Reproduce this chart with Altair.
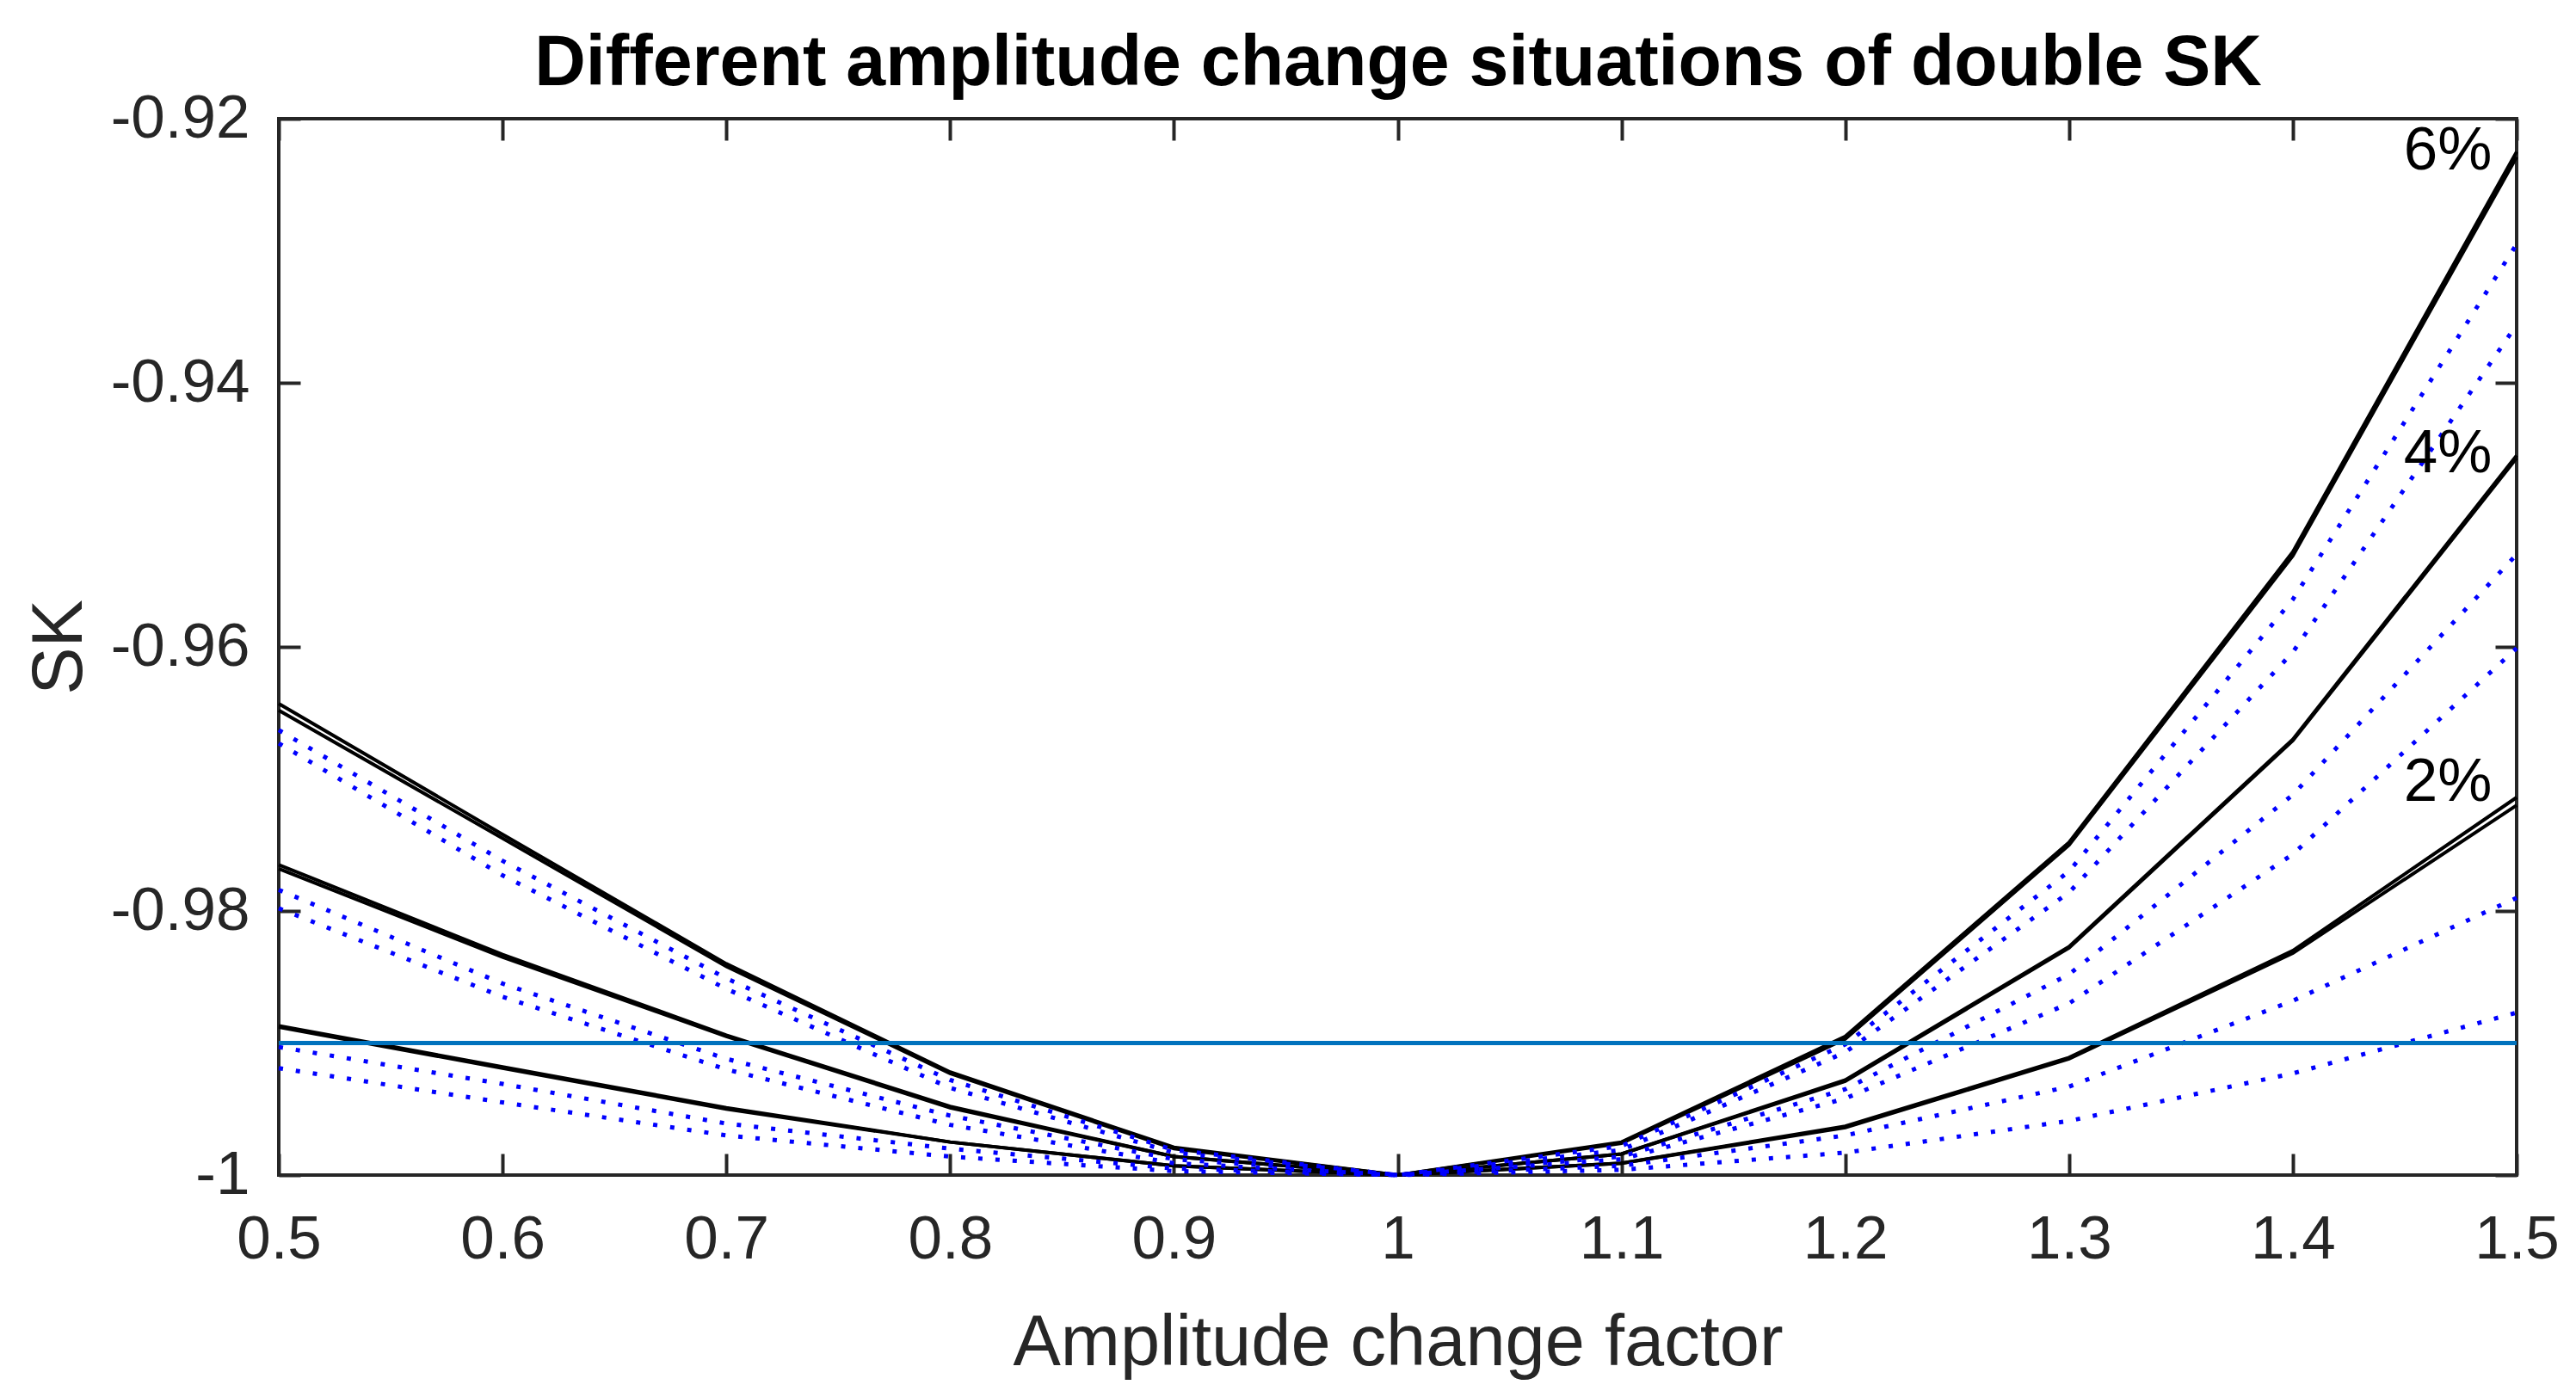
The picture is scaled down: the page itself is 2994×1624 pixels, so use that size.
import altair as alt
import pandas as pd

# ---------------- data ----------------
x_vals = [0.5, 0.6, 0.7, 0.8, 0.9, 1.0, 1.1, 1.2, 1.3, 1.4, 1.5]

black_6a = [-0.9643, -0.9742, -0.9840, -0.9922, -0.9979, -1.0, -0.9975, -0.9895, -0.9748, -0.9528, -0.9225]
black_6b = [-0.9648, -0.9745, -0.9842, -0.9923, -0.9980, -1.0, -0.9976, -0.9897, -0.9750, -0.9531, -0.9229]
black_4a = [-0.9765, -0.9833, -0.9894, -0.9948, -0.9986, -1.0, -0.9984, -0.9928, -0.9827, -0.9670, -0.9455]
black_4b = [-0.9768, -0.9835, -0.9895, -0.9949, -0.9986, -1.0, -0.9984, -0.9929, -0.9828, -0.9671, -0.9457]
black_2a = [-0.9887, -0.9918, -0.9949, -0.9975, -0.9993, -1.0, -0.9991, -0.9963, -0.9911, -0.9830, -0.9714]
black_2b = [-0.9888, -0.9919, -0.9950, -0.9975, -0.9993, -1.0, -0.9991, -0.9964, -0.9912, -0.9832, -0.9720]

blue_6a = [-0.9663, -0.9762, -0.9851, -0.9928, -0.9981, -1.0, -0.9978, -0.9901, -0.9770, -0.9564, -0.9295]
blue_6b = [-0.9673, -0.9773, -0.9859, -0.9934, -0.9983, -1.0, -0.9981, -0.9907, -0.9786, -0.9604, -0.9356]
blue_4a = [-0.9784, -0.9855, -0.9912, -0.9955, -0.9988, -1.0, -0.9986, -0.9935, -0.9848, -0.9712, -0.9530]
blue_4b = [-0.9798, -0.9865, -0.9920, -0.9962, -0.9991, -1.0, -0.9988, -0.9942, -0.9870, -0.9757, -0.9601]
blue_2a = [-0.9903, -0.9931, -0.9961, -0.9980, -0.9995, -1.0, -0.9993, -0.9970, -0.9933, -0.9868, -0.9790]
blue_2b = [-0.9919, -0.9945, -0.9970, -0.9986, -0.9997, -1.0, -0.9996, -0.9983, -0.9959, -0.9923, -0.9877]

threshold = [-0.99]

label_texts = ["6%", "4%", "2%"]
label_x = [1.489, 1.489, 1.489]
label_y = [-0.9225, -0.9454, -0.9703]

y_ticks = [-1.0, -0.98, -0.96, -0.94, -0.92]

title_text = "Different amplitude change situations of double SK"

# ---------------- tables ----------------
black_series = {"b6a": black_6a, "b6b": black_6b, "b4a": black_4a,
                "b4b": black_4b, "b2a": black_2a, "b2b": black_2b}
blue_series = {"u6a": blue_6a, "u6b": blue_6b, "u4a": blue_4a,
               "u4b": blue_4b, "u2a": blue_2a, "u2b": blue_2b}

def long_df(series):
    rows = []
    for name, vals in series.items():
        for xv, yv in zip(x_vals, vals):
            rows.append({"x": xv, "y": yv, "s": name})
    return pd.DataFrame(rows)

df_black = long_df(black_series)
df_blue = long_df(blue_series)
df_thr = pd.DataFrame({"y": threshold})
df_lab = pd.DataFrame({"x": label_x, "y": label_y, "t": label_texts})

W, H = 2601, 1228
AX = "#262626"
FONT = "Liberation Sans"

xscale = alt.Scale(domain=[0.5, 1.5], nice=False, zero=False)
yscale = alt.Scale(domain=[-1.0, -0.92], nice=False, zero=False)

def tick_axis(orient, offset, values, **kw):
    opts = dict(orient=orient, offset=offset, labels=False, domain=False,
                ticks=True, tickSize=25, tickWidth=4, tickColor=AX,
                title=None, grid=False, values=values)
    opts.update(kw)
    return alt.Axis(**opts)

# black solid lines (inward ticks at bottom and left)
black = alt.Chart(df_black).mark_line(color="black", strokeWidth=4).encode(
    x=alt.X("x:Q", scale=xscale, axis=tick_axis("top", -H, x_vals)),
    y=alt.Y("y:Q", scale=yscale, axis=tick_axis("right", -W, y_ticks)),
    detail="s:N",
)

# blue dotted lines (labelled axes)
blue = alt.Chart(df_blue).mark_line(
    color="#0000FF", strokeWidth=5, strokeDash=[5, 15]
).encode(
    x=alt.X("x:Q", scale=xscale, axis=alt.Axis(
        orient="bottom", values=x_vals, ticks=False, tickSize=0, domain=False,
        grid=False, labelPadding=40, labelFontSize=71, labelFont=FONT,
        labelColor=AX, labelFlush=False, labelOverlap=False,
        labelExpr="format(datum.value, '.1~f')",
        title="Amplitude change factor", titleFontSize=83, titleFont=FONT,
        titleFontWeight="normal", titleColor=AX, titleBaseline="alphabetic",
        titleY=220)),
    y=alt.Y("y:Q", scale=yscale, axis=alt.Axis(
        orient="left", values=y_ticks, ticks=False, tickSize=0, domain=False,
        grid=False, labelPadding=34, labelFontSize=71, labelFont=FONT,
        labelColor=AX, labelFlush=False, labelOverlap=False,
        labelExpr="datum.value <= -0.9999 ? '-1' : '-' + format(abs(datum.value), '.2f')",
        title="SK", titleFontSize=83, titleFont=FONT, titleFontWeight="normal",
        titleColor=AX, titleBaseline="alphabetic", titleAngle=270,
        titleX=-230)),
    detail="s:N",
)

# threshold line
thr = alt.Chart(df_thr).mark_rule(color="#0072BD", strokeWidth=5).encode(
    y=alt.Y("y:Q", scale=yscale, axis=None)
)

# percentage labels (inward ticks at top and right; chart heading on top edge)
labels = alt.Chart(df_lab).mark_text(
    align="right", baseline="middle", fontSize=71, font=FONT, color="black"
).encode(
    x=alt.X("x:Q", scale=xscale, axis=tick_axis(
        "bottom", -H, x_vals, title=title_text, titleFontSize=82.5,
        titleFont=FONT, titleFontWeight="bold", titleColor="black",
        titleBaseline="alphabetic", titleY=-40)),
    y=alt.Y("y:Q", scale=yscale, axis=tick_axis("left", -W, y_ticks)),
    text="t:N",
)

chart = alt.layer(black, blue, thr, labels).resolve_axis(
    x="independent", y="independent"
).properties(
    width=W, height=H,
    autosize=alt.AutoSizeParams(type="none"),
    padding={"left": 316, "top": 130, "right": 50, "bottom": 240},
    background="white",
).configure_view(stroke=AX, strokeWidth=4)

chart.save("out.html", embed_options={"renderer": "svg", "actions": False})
